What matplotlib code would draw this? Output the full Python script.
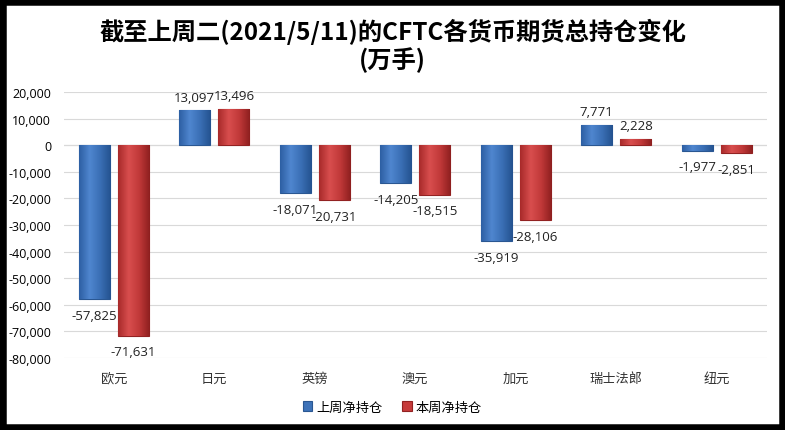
import numpy as np
import matplotlib.pyplot as plt
from matplotlib.patches import Rectangle
from matplotlib.colors import LinearSegmentedColormap

plt.rcParams['font.family'] = ['Noto Sans CJK SC', 'DejaVu Sans']

categories = ["欧元", "日元", "英镑", "澳元", "加元", "瑞士法郎", "纽元"]
last_week = [-57825, 13097, -18071, -14205, -35919, 7771, -1977]
this_week = [-71631, 13496, -20731, -18515, -28106, 2228, -2851]
series_names = ["上周净持仓", "本周净持仓"]

fig = plt.figure(figsize=(7.85, 4.31), dpi=100)
fig.patch.set_facecolor("white")
fig.patches.append(Rectangle((0, 0), 1, 1, transform=fig.transFigure,
                             fill=False, edgecolor="black", linewidth=9))

ax = fig.add_axes([0.081, 0.167, 0.896, 0.617])

x = np.arange(len(categories))
w = 0.31
off = 0.195
blue, blue_edge = "#3e73b9", "#2a5792"
red, red_edge = "#c63b3b", "#922222"

blue_cmap = LinearSegmentedColormap.from_list("b", ["#2d5fa3", "#4f86cf", "#3a6fb5", "#24528f"])
red_cmap = LinearSegmentedColormap.from_list("r", ["#a82a2a", "#d84e4e", "#c13939", "#8e1f1f"])

b1 = ax.bar(x - off, last_week, w, color=blue, edgecolor=blue_edge, linewidth=0.8,
            label=series_names[0], zorder=3)
b2 = ax.bar(x + off, this_week, w, color=red, edgecolor=red_edge, linewidth=0.8,
            label=series_names[1], zorder=3)

# horizontal shading on each bar
grad = np.linspace(0, 1, 64).reshape(1, -1)
for bars, cmap in ((b1, blue_cmap), (b2, red_cmap)):
    for rect in bars:
        x0 = rect.get_x()
        y0, h = rect.get_y(), rect.get_height()
        im = ax.imshow(grad, cmap=cmap, aspect="auto", zorder=4,
                       extent=(x0, x0 + rect.get_width(), min(y0, y0 + h), max(y0, y0 + h)))
        im.set_clip_path(rect)

for bars, vals in ((b1, last_week), (b2, this_week)):
    for rect, v in zip(bars, vals):
        cx = rect.get_x() + rect.get_width() / 2
        va = "bottom" if v >= 0 else "top"
        dy = 5 if v >= 0 else -7
        ax.annotate(f"{v:,}", (cx, v), xytext=(0, dy), textcoords="offset points",
                    ha="center", va=va, fontsize=9.5, family="Open Sans", color="#222222")

ax.set_ylim(-80000, 20000)
ax.set_yticks(np.arange(-80000, 20001, 10000))
ax.set_yticklabels([f"{t:,}" for t in range(-80000, 20001, 10000)],
                   fontsize=9, family="Open Sans")
ax.set_xlim(-0.5, len(categories) - 0.5)
ax.set_xticks(x)
ax.set_xticklabels(categories, fontsize=9.5, color="#333333")
ax.tick_params(length=0)
ax.tick_params(axis="y", pad=9)
ax.tick_params(axis="x", pad=10)
ax.grid(axis="y", color="#d9d9d9", linewidth=0.8, zorder=0)
ax.axhline(0, color="#bfbfbf", linewidth=0.8, zorder=1)
for s in ax.spines.values():
    s.set_visible(False)

fig.text(0.5, 0.927, "截至上周二(2021/5/11)的CFTC各货币期货总持仓变化",
         ha="center", va="center", fontsize=17.5, fontweight="bold")
fig.text(0.5, 0.86, "(万手)", ha="center", va="center", fontsize=17.5, fontweight="bold")

fig.legend(loc="center", bbox_to_anchor=(0.5, 0.053), ncol=2, frameon=False,
           fontsize=9.5, handlelength=0.7, handleheight=0.7, columnspacing=1.5,
           handletextpad=0.3)

fig.savefig("out.png", dpi=100)
